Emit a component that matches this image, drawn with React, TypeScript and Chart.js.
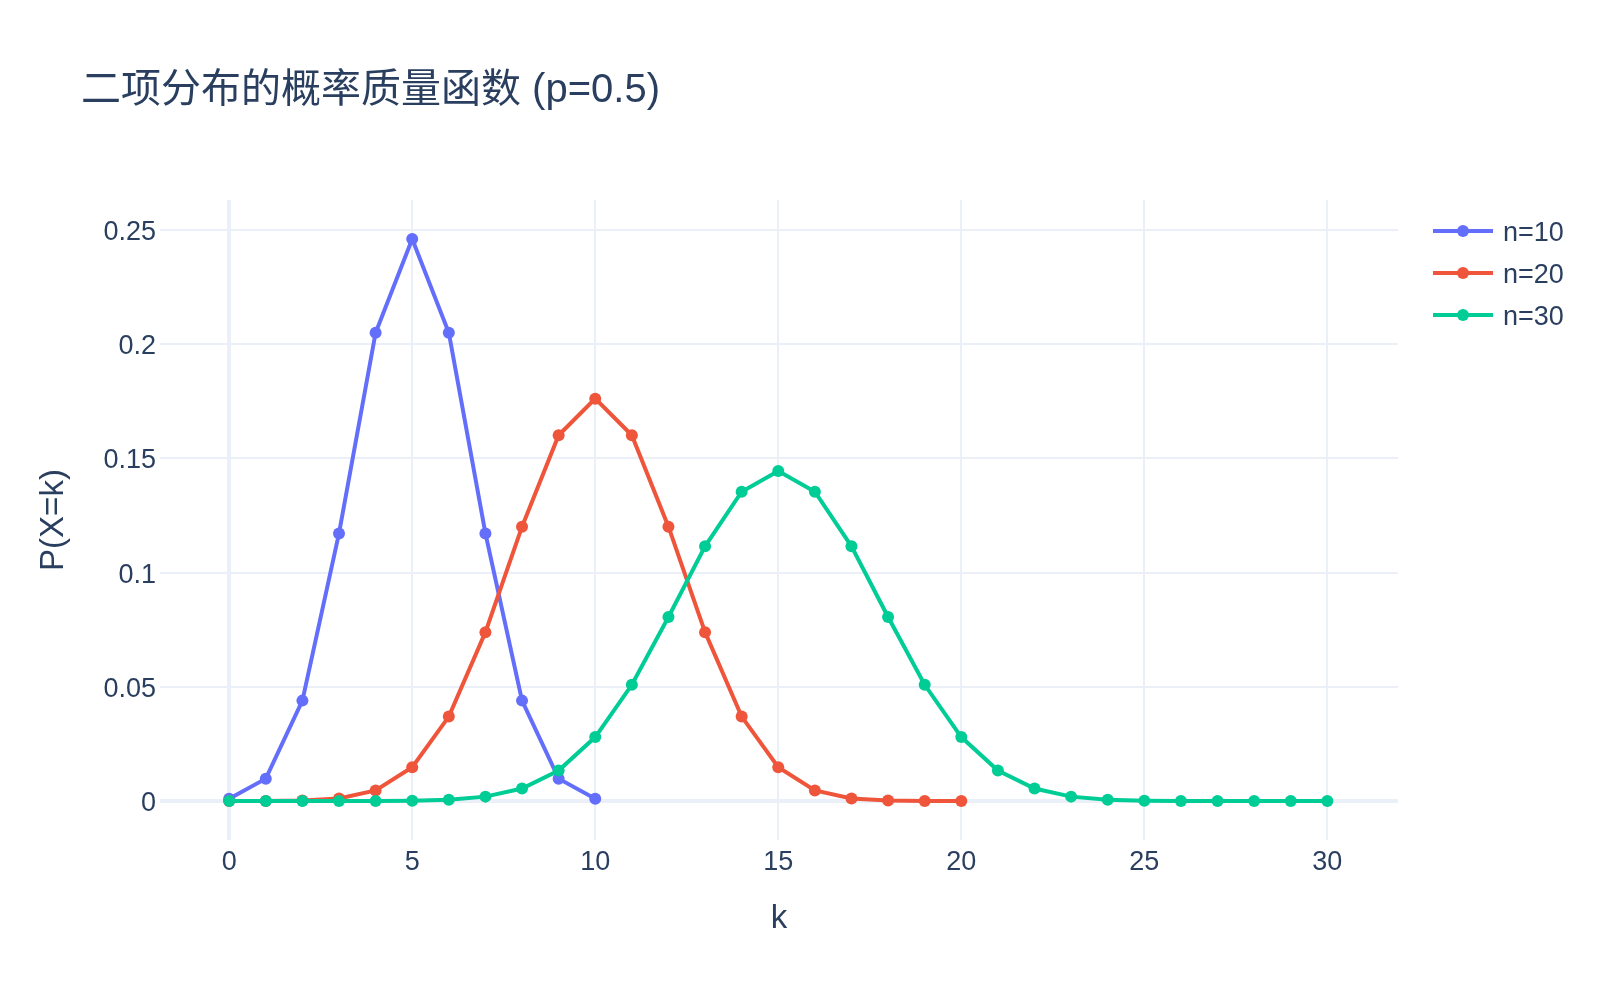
import React, { useEffect, useRef } from "react";
import { Chart, registerables } from "chart.js";

Chart.register(...registerables);

const TITLE = "二项分布的概率质量函数 (p=0.5)";
const X_TITLE = "k";
const Y_TITLE = "P(X=k)";

const seriesNames = ["n=10", "n=20", "n=30"];
const seriesColors = ["#636efa", "#EF553B", "#00cc96"];

const kValues10 = [0, 1, 2, 3, 4, 5, 6, 7, 8, 9, 10];
const pmf10 = [0.000977, 0.009766, 0.043945, 0.117188, 0.205078, 0.246094, 0.205078, 0.117188, 0.043945, 0.009766, 0.000977];

const kValues20 = [0, 1, 2, 3, 4, 5, 6, 7, 8, 9, 10, 11, 12, 13, 14, 15, 16, 17, 18, 19, 20];
const pmf20 = [0.000001, 0.000019, 0.000181, 0.001087, 0.004621, 0.014786, 0.036964, 0.073929, 0.120134, 0.160179, 0.176197, 0.160179, 0.120134, 0.073929, 0.036964, 0.014786, 0.004621, 0.001087, 0.000181, 0.000019, 0.000001];

const kValues30 = [0, 1, 2, 3, 4, 5, 6, 7, 8, 9, 10, 11, 12, 13, 14, 15, 16, 17, 18, 19, 20, 21, 22, 23, 24, 25, 26, 27, 28, 29, 30];
const pmf30 = [0.0, 0.0, 0.0000004, 0.0000038, 0.0000255, 0.000133, 0.000553, 0.001896, 0.005451, 0.013325, 0.027982, 0.050876, 0.080553, 0.111535, 0.135435, 0.144464, 0.135435, 0.111535, 0.080553, 0.050876, 0.027982, 0.013325, 0.005451, 0.001896, 0.000553, 0.000133, 0.0000255, 0.0000038, 0.0000004, 0.0, 0.0];

const xTicks = [0, 5, 10, 15, 20, 25, 30];
const yTicks = [0, 0.05, 0.1, 0.15, 0.2, 0.25];
const xRange = [-1.89, 31.93];
const yRange = [-0.0171, 0.2632];

const FONT = '"Liberation Sans", Arial, "Noto Sans CJK SC", sans-serif';
const TEXT = "#2a3f5f";
const GRID = "#EBF0F8";

function toPoints(xs: number[], ys: number[]) {
  return xs.map((x, i) => ({ x, y: ys[i] }));
}

const overlayPlugin = {
  id: "overlay",
  afterDraw(chart: any) {
    const ctx = chart.ctx;
    const area = chart.chartArea;
    ctx.save();
    ctx.fillStyle = TEXT;
    // title
    ctx.font = `40px ${FONT}`;
    ctx.textAlign = "left";
    ctx.textBaseline = "middle";
    ctx.fillText(TITLE, 81, 91);
    // x title
    ctx.font = `33px ${FONT}`;
    ctx.textAlign = "center";
    ctx.textBaseline = "middle";
    ctx.fillText(X_TITLE, (area.left + area.right) / 2, 919);
    // y title
    ctx.save();
    ctx.translate(54, (area.top + area.bottom) / 2);
    ctx.rotate(-Math.PI / 2);
    ctx.fillText(Y_TITLE, 0, 0);
    ctx.restore();
    // legend
    const ys = [231, 273, 315];
    ctx.font = `27px ${FONT}`;
    ctx.textAlign = "left";
    ctx.textBaseline = "middle";
    seriesNames.forEach((name, i) => {
      const y = ys[i];
      ctx.strokeStyle = seriesColors[i];
      ctx.lineWidth = 4;
      ctx.beginPath();
      ctx.moveTo(1433, y);
      ctx.lineTo(1493, y);
      ctx.stroke();
      ctx.fillStyle = seriesColors[i];
      ctx.beginPath();
      ctx.arc(1463, y, 6, 0, Math.PI * 2);
      ctx.fill();
      ctx.fillStyle = TEXT;
      ctx.fillText(name, 1503, y + 3);
    });
    ctx.restore();
  },
};

export default function App() {
  const ref = useRef<HTMLCanvasElement | null>(null);
  useEffect(() => {
    document.body.style.margin = "0";
    const canvas = ref.current!;
    const datasetsRaw = [
      toPoints(kValues10, pmf10),
      toPoints(kValues20, pmf20),
      toPoints(kValues30, pmf30),
    ];
    const chart = new Chart(canvas, {
      type: "line",
      data: {
        datasets: datasetsRaw.map((d, i) => ({
          label: seriesNames[i],
          data: d,
          borderColor: seriesColors[i],
          backgroundColor: seriesColors[i],
          pointBackgroundColor: seriesColors[i],
          pointBorderColor: seriesColors[i],
          pointBorderWidth: 0,
          pointRadius: 6,
          borderWidth: 4,
          tension: 0,
          fill: false,
          order: 3 - i,
        })),
      },
      options: {
        responsive: false,
        animation: false,
        devicePixelRatio: 1,
        layout: { padding: { left: 0, top: 200, right: 202, bottom: 0 } },
        plugins: {
          legend: { display: false },
          tooltip: { enabled: false },
          title: { display: false },
        },
        scales: {
          x: {
            type: "linear",
            min: xRange[0],
            max: xRange[1],
            afterBuildTicks: (s: any) => {
              s.ticks = xTicks.map((v) => ({ value: v }));
            },
            afterFit: (s: any) => {
              s.height = 160;
            },
            grid: {
              color: GRID,
              lineWidth: (c: any) => (c.tick && c.tick.value === 0 ? 4 : 2),
              drawTicks: false,
            },
            border: { display: false },
            ticks: {
              padding: 6,
              color: TEXT,
              font: { family: FONT, size: 27 },
              maxRotation: 0,
              autoSkip: false,
              callback: (v: any) => String(v),
            },
          },
          y: {
            type: "linear",
            min: yRange[0],
            max: yRange[1],
            afterBuildTicks: (s: any) => {
              s.ticks = yTicks.map((v) => ({ value: v }));
            },
            afterFit: (s: any) => {
              s.width = 160;
            },
            grid: {
              color: GRID,
              lineWidth: (c: any) => (c.tick && c.tick.value === 0 ? 4 : 2),
              drawTicks: false,
            },
            border: { display: false },
            ticks: {
              padding: 4,
              labelOffset: 2.5,
              color: TEXT,
              font: { family: FONT, size: 27 },
              autoSkip: false,
              callback: (v: any) => String(Math.round(v * 1000) / 1000),
            },
          },
        },
      },
      plugins: [overlayPlugin],
    } as any);
    return () => chart.destroy();
  }, []);
  return (
    <div style={{ width: 1600, height: 1000, background: "#fff" }}>
      <canvas ref={ref} width={1600} height={1000} style={{ width: 1600, height: 1000, display: "block" }} />
    </div>
  );
}
